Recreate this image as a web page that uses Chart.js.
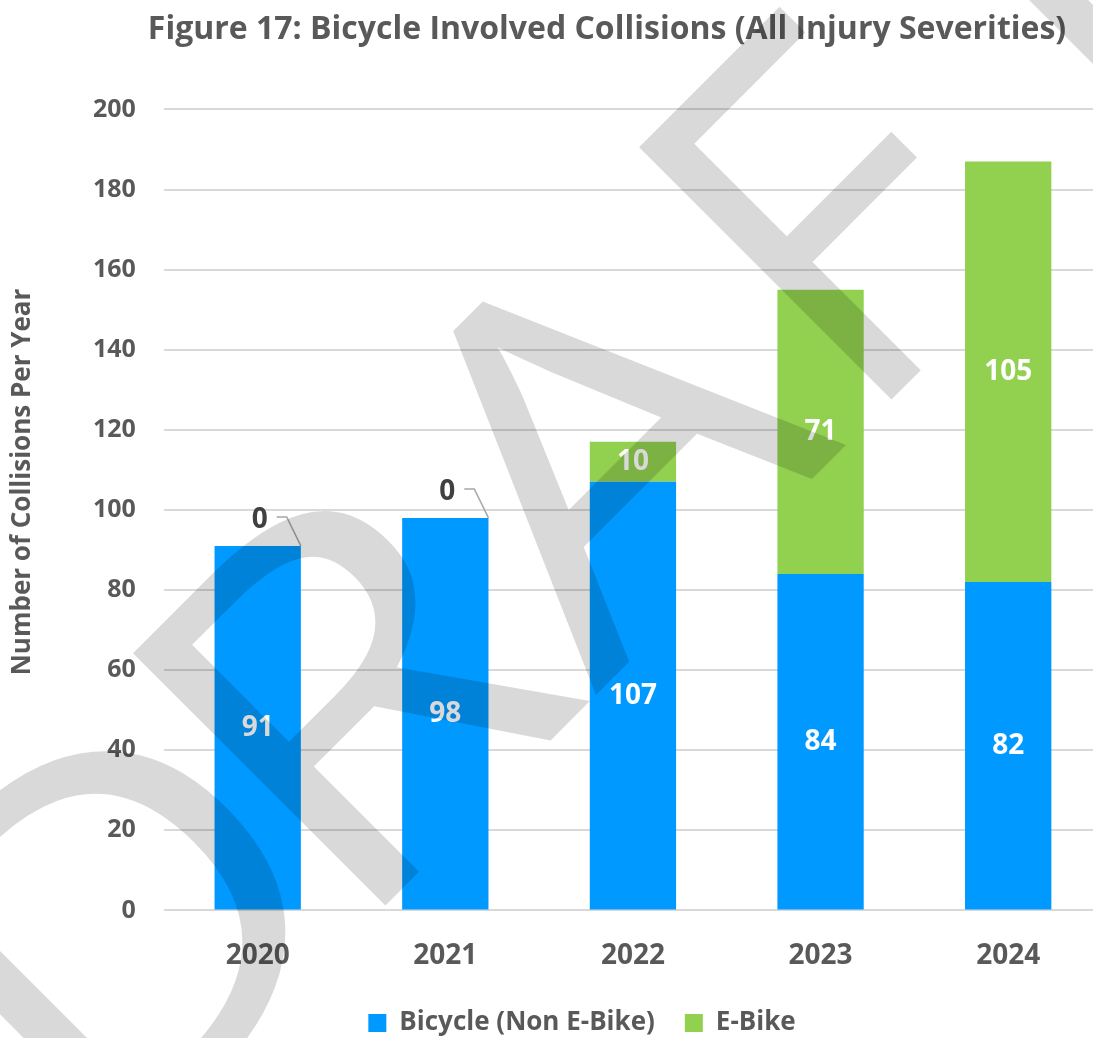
<!DOCTYPE html>
<html>
<head>
<meta charset="utf-8">
<script src="https://cdn.jsdelivr.net/npm/chart.js@4.4.1/dist/chart.umd.min.js"></script>
<style>
  html, body { margin: 0; padding: 0; background: #fff; }
  #wrap { width: 1093px; height: 1038px; overflow: hidden; }
  #inner { width: 1102px; height: 1038px; }
</style>
</head>
<body>
<div id="wrap"><div id="inner"><canvas id="myChart"></canvas></div></div>
<script>
const years = ["2020", "2021", "2022", "2023", "2024"];
const bicycle = [91, 98, 107, 84, 82];
const eBike = [0, 0, 10, 71, 105];
const yMin = 0;
const yMax = 200;
const yStep = 20;

const grey = "#595959";
const font = "'Open Sans', 'Noto Sans', sans-serif";
const yTitle = "Number of Collisions Per Year";

// white numbers in the middle of each segment, zero values get a little leader line
const barLabels = {
  id: "barLabels",
  afterDatasetsDraw(chart) {
    const c = chart.ctx;
    c.save();
    c.font = "bold 28px " + font;
    c.textAlign = "center";
    c.textBaseline = "middle";
    chart.data.datasets.forEach((ds, i) => {
      const meta = chart.getDatasetMeta(i);
      meta.data.forEach((bar, j) => {
        const v = ds.data[j];
        if (v === 0) {
          const tx = bar.x + 2;
          const ty = bar.y - 26;
          c.fillStyle = "#404040";
          c.fillText("0", tx, ty);
          c.strokeStyle = "#A6A6A6";
          c.lineWidth = 1.5;
          c.beginPath();
          c.moveTo(tx + 17, ty - 3);
          c.lineTo(tx + 27, ty - 3);
          c.lineTo(bar.x + bar.width / 2, bar.y);
          c.stroke();
        } else {
          c.fillStyle = "#fff";
          c.fillText(String(v), bar.x, (bar.y + bar.base) / 2);
        }
      });
    });
    c.restore();
  },
};

// title and legend sit a bit right of the canvas centre in the original
const nudge = {
  id: "nudge",
  afterLayout(chart) {
    const move = (box, centre) => {
      if (!box) return;
      const dx = centre - (box.left + box.right) / 2;
      box.left += dx;
      box.right += dx;
    };
    move(chart.titleBlock, 607);
    move(chart.legend, 582);
  },
};

// y axis title, a little above the middle of the plot like the original
const axisTitle = {
  id: "axisTitle",
  afterDraw(chart) {
    const c = chart.ctx;
    c.save();
    c.translate(23, 482);
    c.rotate(-Math.PI / 2);
    c.font = "bold 26px " + font;
    c.fillStyle = grey;
    c.textAlign = "center";
    c.textBaseline = "middle";
    c.fillText(yTitle, 0, 0);
    c.restore();
  },
};

// grey DRAFT stamp across the page: letter, offset along the baseline, width stretch
const stamp = [["D", -770, 1.08], ["R", -424, 1.15], ["A", -70, 1.12], ["F", 299, 1], ["T", 611, 1]];
const watermark = {
  id: "watermark",
  afterDraw(chart) {
    const c = chart.ctx;
    c.save();
    c.translate(645.5, 645.5);
    c.rotate(-Math.PI / 4);
    c.font = "500px " + font;
    c.fillStyle = "rgba(0, 0, 0, 0.15)";
    c.textAlign = "left";
    c.textBaseline = "alphabetic";
    stamp.forEach(([ch, s, k]) => {
      c.save();
      c.translate(s, 0);
      c.scale(k, 1);
      c.fillText(ch, 0, 0);
      c.restore();
    });
    c.restore();
  },
};

new Chart(document.getElementById("myChart"), {
  type: "bar",
  data: {
    labels: years,
    datasets: [
      {
        label: "Bicycle (Non E-Bike)",
        data: bicycle,
        backgroundColor: "#0099FF",
        barPercentage: 0.46,
        categoryPercentage: 1,
      },
      {
        label: "E-Bike",
        data: eBike,
        backgroundColor: "#92D050",
        barPercentage: 0.46,
        categoryPercentage: 1,
      },
    ],
  },
  options: {
    responsive: true,
    maintainAspectRatio: false,
    animation: false,
    layout: { padding: { left: 65, right: 0, top: 0, bottom: -8 } },
    plugins: {
      title: {
        display: true,
        text: "Figure 17: Bicycle Involved Collisions (All Injury Severities)",
        color: grey,
        font: { family: font, size: 32, weight: "bold" },
        padding: { top: 11, bottom: 60 },
      },
      legend: {
        position: "bottom",
        labels: {
          color: grey,
          font: { family: font, size: 26, weight: "bold" },
          boxWidth: 18,
          boxHeight: 18,
          padding: 30,
        },
      },
      tooltip: { enabled: false },
    },
    scales: {
      x: {
        stacked: true,
        grid: { display: false },
        border: { display: false },
        ticks: {
          color: grey,
          font: { family: font, size: 28, weight: "bold" },
          padding: 21,
        },
        afterFit(scale) {
          scale.height -= 14;
        },
      },
      y: {
        stacked: true,
        min: yMin,
        max: yMax,
        ticks: {
          stepSize: yStep,
          color: grey,
          font: { family: font, size: 25, weight: "bold" },
          padding: 28,
        },
        grid: { color: "#D9D9D9", lineWidth: 2, drawTicks: false },
        border: { display: false },
      },
    },
  },
  plugins: [barLabels, nudge, axisTitle, watermark],
});
</script>
</body>
</html>
